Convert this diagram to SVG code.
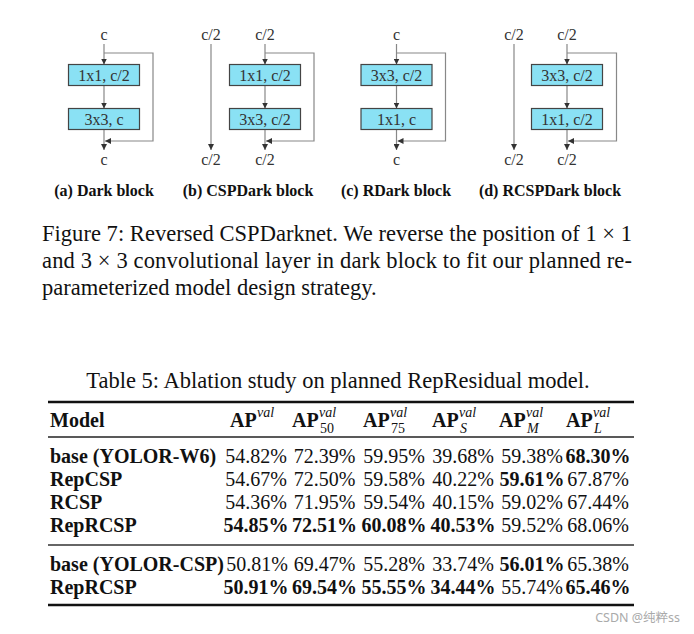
<svg xmlns="http://www.w3.org/2000/svg" width="694" height="634" viewBox="0 0 694 634">
<style>
.lbl{font-family:"Liberation Serif","Times New Roman",serif;font-size:16px;fill:#333;text-anchor:middle}
.box rect{fill:#8ae1f4;stroke:#444;stroke-width:1.2}
.box text{font-family:"Liberation Serif","Times New Roman",serif;font-size:16px;fill:#333;text-anchor:middle}
.cap{font-family:"Liberation Serif","Times New Roman",serif;font-size:16px;font-weight:bold;fill:#111;text-anchor:middle}
.conn line,.conn path{stroke:#888;stroke-width:1.2;fill:none;marker-end:url(#ah)}
.txt{font-family:"Liberation Serif","Times New Roman",serif;font-size:22.5px;fill:#111}
.t{font-family:"Liberation Serif","Times New Roman",serif;font-size:20px;fill:#111}
.b{font-weight:bold}
.c{text-anchor:middle}
.sup{font-family:"Liberation Serif","Times New Roman",serif;font-size:14px;font-style:italic;fill:#111}
.sub{font-family:"Liberation Serif","Times New Roman",serif;font-size:14px;fill:#111}
</style>
<defs>
<marker id="ah" viewBox="0 0 6 6" refX="6" refY="3" markerWidth="6" markerHeight="6" markerUnits="userSpaceOnUse" orient="auto">
<path d="M0,0 L6,3 L0,6 z" fill="#333"/>
</marker>
</defs>
<rect width="694" height="634" fill="#fff"/>

<g id="labels">
<text class="lbl" x="104" y="40">c</text>
<text class="lbl" x="104" y="165">c</text>
<text class="lbl" x="211" y="40">c/2</text>
<text class="lbl" x="265" y="40">c/2</text>
<text class="lbl" x="211" y="165">c/2</text>
<text class="lbl" x="265" y="165">c/2</text>
<text class="lbl" x="396.5" y="40">c</text>
<text class="lbl" x="396.5" y="165">c</text>
<text class="lbl" x="514" y="40">c/2</text>
<text class="lbl" x="567" y="40">c/2</text>
<text class="lbl" x="514" y="165">c/2</text>
<text class="lbl" x="567" y="165">c/2</text>
</g>

<g class="conn" id="connectors">
<line x1="104" y1="44" x2="104" y2="64.5"/>
<path d="M104,53 H153 V141 H105"/>
<line x1="104" y1="85.5" x2="104" y2="108.5"/>
<line x1="104" y1="129.5" x2="104" y2="150"/>
<line x1="211" y1="44" x2="211" y2="150"/>
<line x1="265" y1="44" x2="265" y2="64.5"/>
<path d="M265,53 H314 V141 H266"/>
<line x1="265" y1="85.5" x2="265" y2="108.5"/>
<line x1="265" y1="129.5" x2="265" y2="150"/>
<line x1="396.5" y1="44" x2="396.5" y2="64.5"/>
<path d="M396.5,53 H445.5 V141 H397.5"/>
<line x1="396.5" y1="85.5" x2="396.5" y2="108.5"/>
<line x1="396.5" y1="129.5" x2="396.5" y2="150"/>
<line x1="514" y1="44" x2="514" y2="150"/>
<line x1="567" y1="44" x2="567" y2="64.5"/>
<path d="M567,53 H616.5 V141 H568"/>
<line x1="567" y1="85.5" x2="567" y2="108.5"/>
<line x1="567" y1="129.5" x2="567" y2="150"/>
</g>

<g id="a1" class="box"><rect x="68.5" y="64.5" width="71" height="21"/><text x="104" y="81">1x1, c/2</text></g>
<g id="a2" class="box"><rect x="68.5" y="108.5" width="71" height="21"/><text x="104" y="125">3x3, c</text></g>
<g id="b1" class="box"><rect x="229.5" y="64.5" width="71" height="21"/><text x="265" y="81">1x1, c/2</text></g>
<g id="b2" class="box"><rect x="229.5" y="108.5" width="71" height="21"/><text x="265" y="125">3x3, c/2</text></g>
<g id="c1" class="box"><rect x="361" y="64.5" width="71" height="21"/><text x="396.5" y="81">3x3, c/2</text></g>
<g id="c2" class="box"><rect x="361" y="108.5" width="71" height="21"/><text x="396.5" y="125">1x1, c</text></g>
<g id="d1" class="box"><rect x="531.5" y="64.5" width="71" height="21"/><text x="567" y="81">3x3, c/2</text></g>
<g id="d2" class="box"><rect x="531.5" y="108.5" width="71" height="21"/><text x="567" y="125">1x1, c/2</text></g>

<g id="captions">
<text class="cap" x="104" y="196">(a) Dark block</text>
<text class="cap" x="248" y="196">(b) CSPDark block</text>
<text class="cap" x="396" y="196">(c) RDark block</text>
<text class="cap" x="550" y="196">(d) RCSPDark block</text>
</g>

<g id="figcaption">
<text class="txt" x="42" y="241" textLength="590" lengthAdjust="spacing">Figure 7: Reversed CSPDarknet. We reverse the position of 1 × 1</text>
<text class="txt" x="42" y="268" textLength="590" lengthAdjust="spacing">and 3 × 3 convolutional layer in dark block to fit our planned re-</text>
<text class="txt" x="42" y="295">parameterized model design strategy.</text>
</g>

<g id="table">
<text class="txt" x="338" y="388" text-anchor="middle">Table 5: Ablation study on planned RepResidual model.</text>
<line x1="48" y1="402" x2="634" y2="402" stroke="#111" stroke-width="2.5"/>
<line x1="48" y1="437" x2="634" y2="437" stroke="#222" stroke-width="1.5"/>
<line x1="48" y1="545" x2="634" y2="545" stroke="#666" stroke-width="2"/>
<line x1="48" y1="605" x2="634" y2="605" stroke="#111" stroke-width="2.5"/>

<text class="t b" x="50" y="427">Model</text>
<text class="t b" x="230" y="427">AP</text><text class="sup" x="257" y="417">val</text>
<text class="t b" x="292" y="427">AP</text><text class="sup" x="319" y="417">val</text><text class="sub" x="320" y="433">50</text>
<text class="t b" x="363" y="427">AP</text><text class="sup" x="390" y="417">val</text><text class="sub" x="391" y="433">75</text>
<text class="t b" x="432" y="427">AP</text><text class="sup" x="459" y="417">val</text><text class="sup" x="460" y="433">S</text>
<text class="t b" x="499" y="427">AP</text><text class="sup" x="526" y="417">val</text><text class="sup" x="527" y="433">M</text>
<text class="t b" x="566" y="427">AP</text><text class="sup" x="593" y="417">val</text><text class="sup" x="594" y="433">L</text>

<g class="t">
<text class="b" x="50" y="463">base (YOLOR-W6)</text>
<text class="c" x="256" y="463">54.82%</text><text class="c" x="324.5" y="463">72.39%</text><text class="c" x="394" y="463">59.95%</text><text class="c" x="463" y="463">39.68%</text><text class="c" x="532" y="463">59.38%</text><text class="c b" x="598" y="463">68.30%</text>

<text class="b" x="50" y="486">RepCSP</text>
<text class="c" x="256" y="486">54.67%</text><text class="c" x="324.5" y="486">72.50%</text><text class="c" x="394" y="486">59.58%</text><text class="c" x="463" y="486">40.22%</text><text class="c b" x="532" y="486">59.61%</text><text class="c" x="598" y="486">67.87%</text>

<text class="b" x="50" y="509">RCSP</text>
<text class="c" x="256" y="509">54.36%</text><text class="c" x="324.5" y="509">71.95%</text><text class="c" x="394" y="509">59.54%</text><text class="c" x="463" y="509">40.15%</text><text class="c" x="532" y="509">59.02%</text><text class="c" x="598" y="509">67.44%</text>

<text class="b" x="50" y="532">RepRCSP</text>
<text class="c b" x="256" y="532">54.85%</text><text class="c b" x="324.5" y="532">72.51%</text><text class="c b" x="394" y="532">60.08%</text><text class="c b" x="463" y="532">40.53%</text><text class="c" x="532" y="532">59.52%</text><text class="c" x="598" y="532">68.06%</text>

<text class="b" x="50" y="571">base (YOLOR-CSP)</text>
<text class="c" x="257" y="571">50.81%</text><text class="c" x="324.5" y="571">69.47%</text><text class="c" x="394" y="571">55.28%</text><text class="c" x="463" y="571">33.74%</text><text class="c b" x="532" y="571">56.01%</text><text class="c" x="598" y="571">65.38%</text>

<text class="b" x="50" y="594">RepRCSP</text>
<text class="c b" x="256" y="594">50.91%</text><text class="c b" x="324.5" y="594">69.54%</text><text class="c b" x="394" y="594">55.55%</text><text class="c b" x="463" y="594">34.44%</text><text class="c" x="532" y="594">55.74%</text><text class="c b" x="598" y="594">65.46%</text>
</g>
</g>

<text x="680" y="622" text-anchor="end" font-family="'Noto Sans','Noto Sans CJK SC',sans-serif" font-size="12.5" fill="#aaa">CSDN @纯粹ss</text>
</svg>
